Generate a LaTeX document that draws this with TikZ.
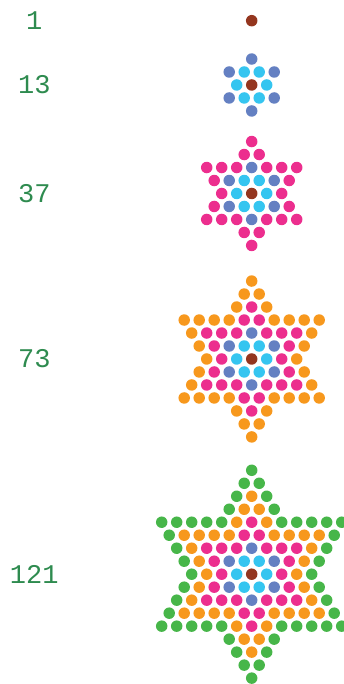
\documentclass[tikz,border=0pt]{standalone}
\usepackage{fontspec}
\newfontfamily\monofont{Liberation Mono}
\definecolor{cBrown}{HTML}{94361F}
\definecolor{cCyan}{HTML}{35C5F0}
\definecolor{cBlue}{HTML}{6480C2}
\definecolor{cPink}{HTML}{EC2E8E}
\definecolor{cOrange}{HTML}{F7981D}
\definecolor{cGreen}{HTML}{47B649}
\definecolor{cLabel}{HTML}{2E8B4F}
\begin{document}
\begin{tikzpicture}[x=1pt,y=1pt,
  lbl/.style={font=\monofont\fontsize{27}{27}\selectfont, text=cLabel, anchor=center, inner sep=0pt}]
\useasboundingbox (0,0) rectangle (344,684);
\foreach \n/\cy/\lab in {1/663.3/1, 2/599/13, 3/490.5/37, 4/325/73, 5/109.8/121} {
  \node[lbl] (lab\n) at (34.3,\cy) {\lab};
  \pgfmathtruncatemacro\m{2*(\n-1)}
  \foreach \r in {-\m,...,\m} {
    \foreach \q in {-\m,...,\m} {
      \pgfmathtruncatemacro\s{-\q-\r}
      \pgfmathtruncatemacro\mn{min(\r,\q,\s)}
      \pgfmathtruncatemacro\mx{max(\r,\q,\s)}
      \pgfmathtruncatemacro\layer{1+min(-\mn,\mx)}
      \pgfmathtruncatemacro\dist{max(abs(\r),abs(\q),abs(\s))}
      \ifnum\layer>\n\relax\else
        \ifcase\layer\or\def\dc{cBrown}\or\ifnum\dist=1 \def\dc{cCyan}\else\def\dc{cBlue}\fi\or\def\dc{cPink}\or\def\dc{cOrange}\or\def\dc{cGreen}\fi
        \fill[\dc] ({251.7+15*(\q+\r/2)},{\cy+12.99*\r}) circle (5.75);
      \fi
    }
  }
}
\end{tikzpicture}
\end{document}
